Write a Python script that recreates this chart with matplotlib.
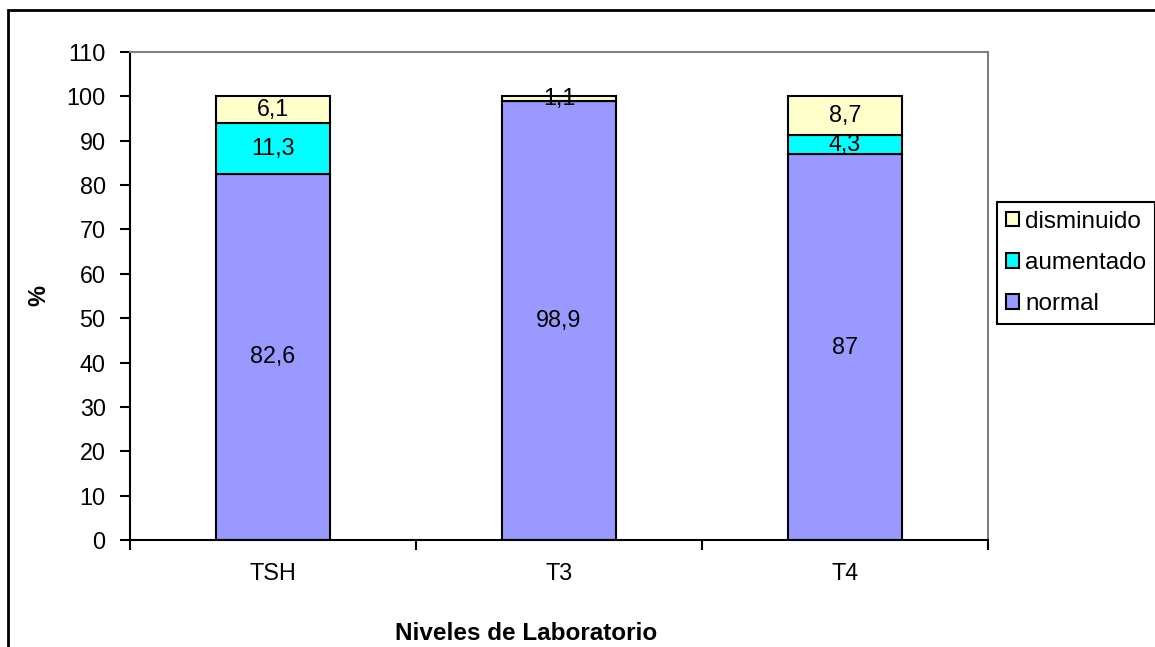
import numpy as np
import matplotlib.pyplot as plt
from matplotlib.patches import Rectangle

plt.rcParams['font.family'] = ['Liberation Sans', 'DejaVu Sans']

categories = ['TSH', 'T3', 'T4']
normal = [82.6, 98.9, 87]
aumentado = [11.3, 0, 4.3]
disminuido = [6.1, 1.1, 8.7]

c_normal = '#9999FF'
c_aum = '#00FFFF'
c_dis = '#FFFFCC'
fs = 16.8


def fmt(v):
    s = ('%g' % v)
    return s.replace('.', ',')


fig = plt.figure(figsize=(11.55, 6.47), dpi=100)
ax = fig.add_axes([130 / 1155, 1 - 540 / 647, 858 / 1155, 488 / 647])

x = np.arange(len(categories))
w = 0.4
bottom = np.zeros(len(categories))
series = [(normal, c_normal, 'normal'),
          (aumentado, c_aum, 'aumentado'),
          (disminuido, c_dis, 'disminuido')]
handles = []
for vals, col, name in series:
    vals = np.array(vals, dtype=float)
    bars = ax.bar(x, vals, w, bottom=bottom, color=col, edgecolor='black',
                  linewidth=1.5, label=name)
    handles.append(bars)
    for xi, b, v in zip(x, bottom, vals):
        if v > 0:
            ax.text(xi, b + v / 2, fmt(v), ha='center', va='center', fontsize=fs)
    bottom = bottom + vals

ax.set_xlim(-0.5, 2.5)
ax.set_ylim(0, 110)
ax.set_yticks(range(0, 111, 10))
ax.tick_params(axis='y', labelsize=fs, length=7, width=1.5, direction='out', pad=10.5)
ax.set_xticks(x)
ax.set_xticklabels(categories)
ax.tick_params(axis='x', which='major', length=0, labelsize=fs, pad=15.5)
ax.set_xticks([-0.5, 0.5, 1.5, 2.5], minor=True)
ax.tick_params(axis='x', which='minor', length=7, width=1.5, direction='out')

for s in ['top', 'right']:
    ax.spines[s].set_color('#808080')
    ax.spines[s].set_linewidth(1.5)
for s in ['left', 'bottom']:
    ax.spines[s].set_color('black')
    ax.spines[s].set_linewidth(1.5)

ax.set_ylabel('%', fontsize=17, fontweight='bold')
ax.yaxis.set_label_coords(-0.093, 0.5)
fig.text(526 / 1155, 1 - 633 / 647, 'Niveles de Laboratorio', fontsize=17.5,
         fontweight='bold', ha='center', va='center')

leg = fig.legend(handles[::-1], ['disminuido', 'aumentado', 'normal'],
                 loc='upper left', bbox_to_anchor=(997 / 1155, 1 - 202 / 647),
                 borderaxespad=0, fontsize=17.5, fancybox=False, framealpha=1,
                 edgecolor='black', handlelength=0.55, handleheight=0.55,
                 handletextpad=0.25, labelspacing=0.8, borderpad=0.35)
leg.get_frame().set_linewidth(1.5)

# outer chart frame
fig.patches.append(Rectangle((8 / 1155, -0.1), 1.2, 1 - 10 / 647 + 0.1,
                             transform=fig.transFigure, fill=False,
                             edgecolor='black', linewidth=2, clip_on=False))

fig.savefig('out.png', dpi=100)
